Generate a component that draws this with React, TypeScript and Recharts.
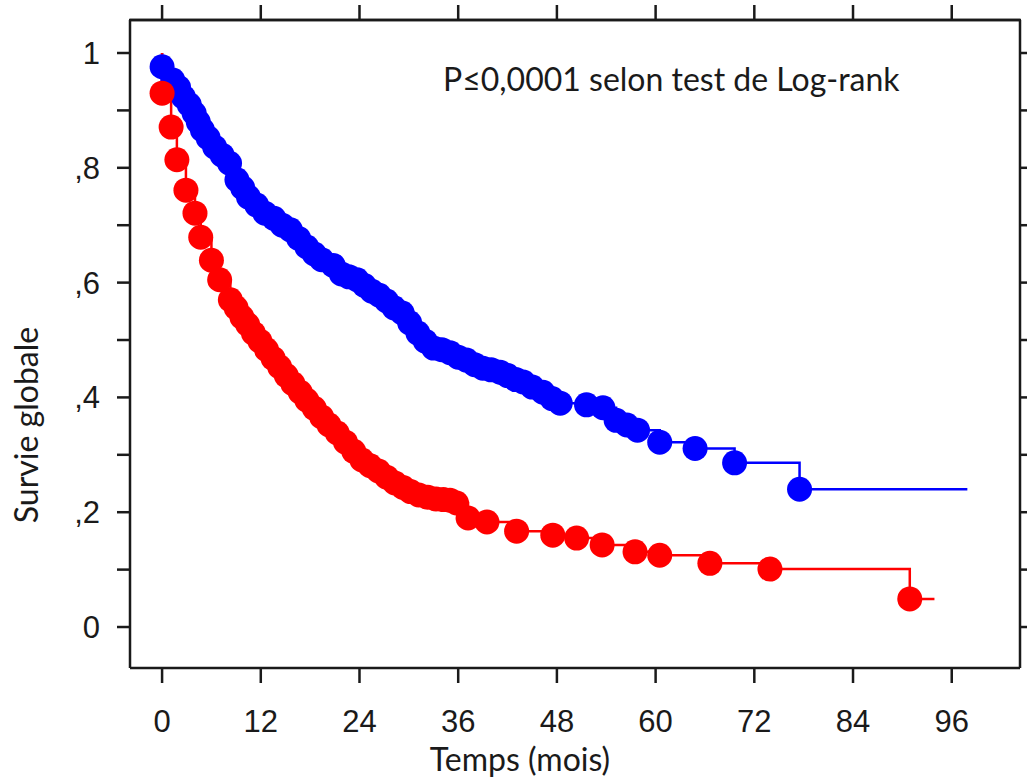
import { ComposedChart, Line, XAxis, YAxis, Label } from "recharts";

// Kaplan-Meier survival (months, overall survival)
const monthTicks = [0, 12, 24, 36, 48, 60, 72, 84, 96];
const survivalTicks = [0, 0.1, 0.2, 0.3, 0.4, 0.5, 0.6, 0.7, 0.8, 0.9, 1];
const monthDomain = [-3.9, 104.3];
const survivalDomain = [-0.0714, 1.0575];

// blue group: censor marks
const blueMonths = [
  0, 1.3, 2.0, 2.6, 3.3, 3.9, 4.4, 4.9, 5.6, 6.4, 7.3, 8.2, 9.1, 9.8, 10.5,
  11.5, 12.5, 13.6, 14.6, 15.6, 16.6, 17.6, 18.5, 19.4, 20.8, 21.8, 22.7, 23.7,
  24.6, 25.5, 26.4, 27.3, 28.2, 29.2, 30.1, 31.1, 32.0, 33.0, 34.0, 35.0, 36.0,
  37.0, 38.0, 39.0, 40.0, 41.1, 42.0, 43.0, 43.9, 45.0, 46.3, 47.4, 48.4, 51.6,
  53.6, 55.2, 56.5, 57.8, 60.5, 64.8, 69.6, 77.5,
];
const blueSurvival = [
  0.976, 0.953, 0.94, 0.923, 0.91, 0.895, 0.88, 0.866, 0.852, 0.836, 0.822,
  0.808, 0.779, 0.765, 0.749, 0.735, 0.721, 0.712, 0.7, 0.692, 0.677, 0.662,
  0.65, 0.64, 0.63, 0.615, 0.61, 0.605, 0.595, 0.585, 0.578, 0.568, 0.556,
  0.547, 0.53, 0.512, 0.498, 0.486, 0.483, 0.478, 0.47, 0.465, 0.457, 0.451,
  0.448, 0.444, 0.438, 0.431, 0.427, 0.418, 0.409, 0.398, 0.39, 0.387, 0.382,
  0.36, 0.352, 0.343, 0.322, 0.311, 0.286, 0.24,
];
const blueLastFollowUp = 97.9;

// red group: censor marks
const redMonths = [
  0, 1.1, 1.8, 2.9, 4.0, 4.7, 6.0, 7.0, 8.3, 9.0, 9.7, 10.4, 11.1, 11.9, 12.7,
  13.5, 14.3, 15.1, 15.9, 16.8, 17.6, 18.5, 19.4, 20.3, 21.3, 22.3, 23.3, 24.3,
  25.3, 26.3, 27.3, 28.3, 29.3, 30.2, 31.2, 32.3, 33.3, 34.2, 35.0, 35.8, 37.2,
  39.5, 43.1, 47.5, 50.4, 53.5, 57.5, 60.5, 66.6, 73.9, 90.9,
];
const redSurvival = [
  0.93, 0.871, 0.814, 0.761, 0.721, 0.679, 0.639, 0.605, 0.57, 0.556, 0.54,
  0.527, 0.512, 0.498, 0.483, 0.468, 0.453, 0.438, 0.424, 0.409, 0.395, 0.381,
  0.366, 0.352, 0.338, 0.322, 0.306, 0.291, 0.281, 0.272, 0.261, 0.251, 0.243,
  0.236, 0.23, 0.226, 0.223, 0.222, 0.221, 0.216, 0.19, 0.183, 0.167, 0.16,
  0.155, 0.143, 0.131, 0.125, 0.111, 0.101, 0.049,
];
const redLastFollowUp = 93.9;

type Pt = { t: number; s: number; mark: boolean };

function buildCurve(months: number[], surv: number[], end: number): Pt[] {
  const pts: Pt[] = [{ t: 0, s: 1, mark: false }];
  months.forEach((t, i) => pts.push({ t, s: surv[i], mark: true }));
  pts.push({ t: end, s: surv[surv.length - 1], mark: false });
  return pts;
}

const blueCurve = buildCurve(blueMonths, blueSurvival, blueLastFollowUp);
const redCurve = buildCurve(redMonths, redSurvival, redLastFollowUp);

const ink = "#1a1a1a";
const tickFont = { fontSize: 31, fill: ink, fontFamily: "Liberation Sans, Arial, sans-serif" };
const titleFont = "Lato, Calibri, sans-serif";
const axisStroke = { stroke: ink, strokeWidth: 2.5 };

const censorDot = (color: string) => (props: any) => {
  const { cx, cy, payload, index } = props;
  if (!payload.mark) return <g key={index} />;
  return <circle key={index} cx={cx} cy={cy} r={12.5} fill={color} />;
};

const fmtSurvival = (v: number) => {
  const r = Math.round(v * 10);
  if (r % 2 !== 0) return "";
  if (r === 0) return "0";
  if (r === 10) return "1";
  return "," + r;
};

// top frame edge + log-rank note
const TopNote = () => (
  <g>
    <line x1={129} x2={1021} y1={20} y2={20} stroke={ink} strokeWidth={2.5} />
    <text x={443} y={91} fontFamily={titleFont} fontSize={32} fill={ink}>
      P≤0,0001 selon test de Log-rank
    </text>
  </g>
);

export default function App() {
  return (
    <div style={{ position: "absolute", left: 0, top: 0, background: "#fff" }}>
      <ComposedChart width={1030} height={781} margin={{ top: 0, right: 0, bottom: 0, left: 0 }}>
        <XAxis
          dataKey="t"
          type="number"
          domain={monthDomain}
          allowDataOverflow
          ticks={monthTicks}
          height={113}
          tickSize={15}
          tickMargin={27}
          tick={tickFont}
          axisLine={axisStroke}
          tickLine={axisStroke}
          interval={0}
        >
          <Label
            content={() => (
              <text x={520} y={771} textAnchor="middle" fontFamily={titleFont} fontSize={32} fill={ink}>
                Temps (mois)
              </text>
            )}
          />
        </XAxis>
        <XAxis
          xAxisId="top"
          orientation="top"
          dataKey="t"
          type="number"
          domain={monthDomain}
          allowDataOverflow
          ticks={monthTicks}
          height={20}
          tickSize={15}
          tickFormatter={() => ""}
          axisLine={axisStroke}
          tickLine={axisStroke}
          interval={0}
        >
          <Label content={TopNote} />
        </XAxis>
        <YAxis
          dataKey="s"
          type="number"
          domain={survivalDomain}
          allowDataOverflow
          ticks={survivalTicks}
          width={130}
          tickSize={13}
          tickMargin={17}
          tick={tickFont}
          tickFormatter={fmtSurvival}
          axisLine={axisStroke}
          tickLine={axisStroke}
          interval={0}
        >
          <Label
            content={() => (
              <text
                x={38}
                y={425}
                transform="rotate(-90 38 425)"
                textAnchor="middle"
                fontFamily={titleFont}
                fontSize={32}
                fill={ink}
              >
                Survie globale
              </text>
            )}
          />
        </YAxis>
        <YAxis
          yAxisId="right"
          orientation="right"
          type="number"
          domain={survivalDomain}
          allowDataOverflow
          ticks={survivalTicks}
          width={10}
          tickSize={7}
          tickFormatter={() => ""}
          axisLine={axisStroke}
          tickLine={axisStroke}
          interval={0}
        />
        <Line
          data={blueCurve}
          dataKey="s"
          type="stepAfter"
          stroke="#0000ff"
          strokeWidth={2.5}
          dot={censorDot("#0000ff")}
          activeDot={false}
          isAnimationActive={false}
        />
        <Line
          data={redCurve}
          dataKey="s"
          type="stepAfter"
          stroke="#ff0000"
          strokeWidth={2.5}
          dot={censorDot("#ff0000")}
          activeDot={false}
          isAnimationActive={false}
        />
      </ComposedChart>
    </div>
  );
}
